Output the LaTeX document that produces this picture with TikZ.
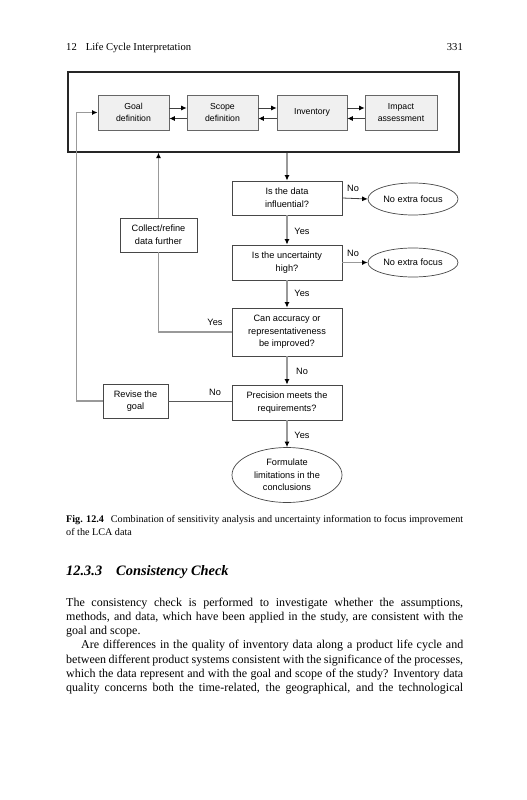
\documentclass[tikz,border=0pt]{standalone}
\usepackage{fontspec}
\setmainfont{Liberation Serif}
\setsansfont{Liberation Sans}
\usetikzlibrary{shapes.geometric,arrows.meta}

\newcommand{\fullline}[1]{\makebox[397pt][s]{#1}}

\tikzset{
  stagebox/.style={draw=black!60, fill=black!6, line width=0.8pt, minimum width=71pt, minimum height=35pt,
    inner sep=1pt, align=center, font=\sffamily\fontsize{8.7}{12.5}\selectfont},
  flowbox/.style={draw=black!72, fill=white, line width=0.8pt, minimum width=110pt, inner sep=1pt,
    align=center, font=\sffamily\fontsize{9.2}{12.6}\selectfont},
  endbox/.style={ellipse, draw=black!72, fill=white, line width=0.7pt, inner sep=0pt,
    align=center, font=\sffamily\fontsize{9.2}{12.6}\selectfont},
  lab/.style={inner sep=0pt, font=\sffamily\fontsize{9.2}{11}\selectfont},
  stagelink/.style={draw=black!75, line width=0.8pt},
  link/.style={draw=black!40, line width=1.1pt},
  tip/.style={-{Latex[color=black,length=5.5pt,width=5pt]}},
  prose/.style={anchor=base west, inner sep=0pt, font=\fontsize{12}{14.3}\selectfont},
  small/.style={anchor=base west, inner sep=0pt, font=\fontsize{10.6}{13}\selectfont},
  capt/.style={anchor=base west, inner sep=0pt, font=\fontsize{10.15}{13}\selectfont},
}

\begin{document}
\begin{tikzpicture}[x=1pt,y=-1pt]
\useasboundingbox (0,0) rectangle (527,800);

% running head
\node[small] (head) at (66,51) {12\hspace{9pt}Life Cycle Interpretation};
\node[small, anchor=base east] (pageno) at (463,51) {331};

% the four phases in their frame
\node[draw=black!85, line width=1.2pt, minimum width=391pt, minimum height=80pt, inner sep=0pt] (lca) at (263.5,112) {};
\node[stagebox] (goal) at (133.5,112.5) {Goal\\definition};
\node[stagebox] (scope) at (222.5,112.5) {Scope\\definition};
\node[stagebox, minimum width=70pt] (inv) at (312,112.5) {Inventory};
\node[stagebox, minimum width=72pt] (impact) at (401,112.5) {Impact\\assessment};

\foreach \a/\b in {goal/scope, scope/inv, inv/impact} {
    \draw[stagelink, tip] ([yshift=4.5pt]\a.east) -- ([yshift=4.5pt]\b.west);
    \draw[stagelink, tip] ([yshift=-6pt]\b.west) -- ([yshift=-6pt]\a.east);
}

% decision boxes
\node[flowbox, minimum height=34pt] (data) at (287,198) {Is the data\\influential?};
\node[flowbox, minimum height=35pt] (unc) at (287,262.5) {Is the uncertainty\\high?};
\node[flowbox, minimum height=48pt] (acc) at (287,332) {Can accuracy or\\representativeness\\be improved?};
\node[flowbox, minimum height=35pt] (prec) at (287,402.5) {Precision meets the\\requirements?};

\node[endbox, minimum width=90pt, minimum height=32pt] (calm1) at (413,199) {No extra focus};
\node[endbox, minimum width=90pt, minimum height=29pt] (calm2) at (413,262.5) {No extra focus};
\node[endbox, minimum width=110pt, minimum height=55pt] (limits) at (287,475) {Formulate\\limitations in the\\conclusions};

\node[flowbox, minimum width=77pt, minimum height=34pt] (collect) at (158.5,235) {Collect/refine\\data further};
\node[flowbox, minimum width=65pt, minimum height=34pt] (revise) at (135.5,401) {Revise the\\goal};

% connectors
\draw[link, tip] (lca.south -| data.north) -- (data.north);
\draw[link, tip] (data) -- (unc);
\draw[link, tip] (unc) -- (acc);
\draw[link, tip] (acc) -- (prec);
\draw[link, tip] (prec) -- (limits);
\draw[stagelink, tip] (data.east) -- (calm1.west);
\draw[link, tip] (unc.east) -- (calm2.west);

\draw[link] (acc.west) -| (collect.south);
\draw[link, tip] (collect.north) -- (collect.north |- lca.south);
\draw[stagelink, draw=black!65] (prec.west |- revise.east) -- (revise.east);
\draw[link, tip] (revise.west) -- ++(-26,0) |- (goal.west);

% answers
\node[lab] (no1) at (353,188) {No};
\node[lab] (no2) at (353,253) {No};
\node[lab] (yes1) at (302,231) {Yes};
\node[lab] (yes2) at (302,293) {Yes};
\node[lab] (yes3) at (215,322) {Yes};
\node[lab] (no3) at (302,371) {No};
\node[lab] (no4) at (215,392) {No};
\node[lab] (yes4) at (302,435) {Yes};

% caption
\node[capt] (cap1) at (66,522)
    {\fullline{\mbox{\textbf{Fig. 12.4}}\hspace{7pt}Combination of sensitivity analysis and uncertainty information to focus improvement}};
\node[capt] (cap2) at (66,535) {of the LCA data};

% section heading
\node[anchor=base west, inner sep=0pt, font=\fontsize{14.4}{16}\selectfont\bfseries\itshape] (sec) at (66,575)
    {12.3.3\hspace{14pt}Consistency Check};

% body text
\node[prose] (l1) at (66,606) {\fullline{The consistency check is performed to investigate whether the assumptions,}};
\node[prose] (l2) at (66,620.3) {\fullline{methods, and data, which have been applied in the study, are consistent with the}};
\node[prose] (l3) at (66,634.6) {goal and scope.};
\node[prose] (l4) at (81,648.9) {\makebox[382pt][s]{Are differences in the quality of inventory data along a product life cycle and}};
\node[prose] (l5) at (66,663.2) {\fullline{between different product systems consistent with the significance of the processes,}};
\node[prose] (l6) at (66,677.5) {\fullline{which the data represent and with the goal and scope of the study? Inventory data}};
\node[prose] (l7) at (66,691.8) {\fullline{quality concerns both the time-related, the geographical, and the technological}};

\end{tikzpicture}
\end{document}
